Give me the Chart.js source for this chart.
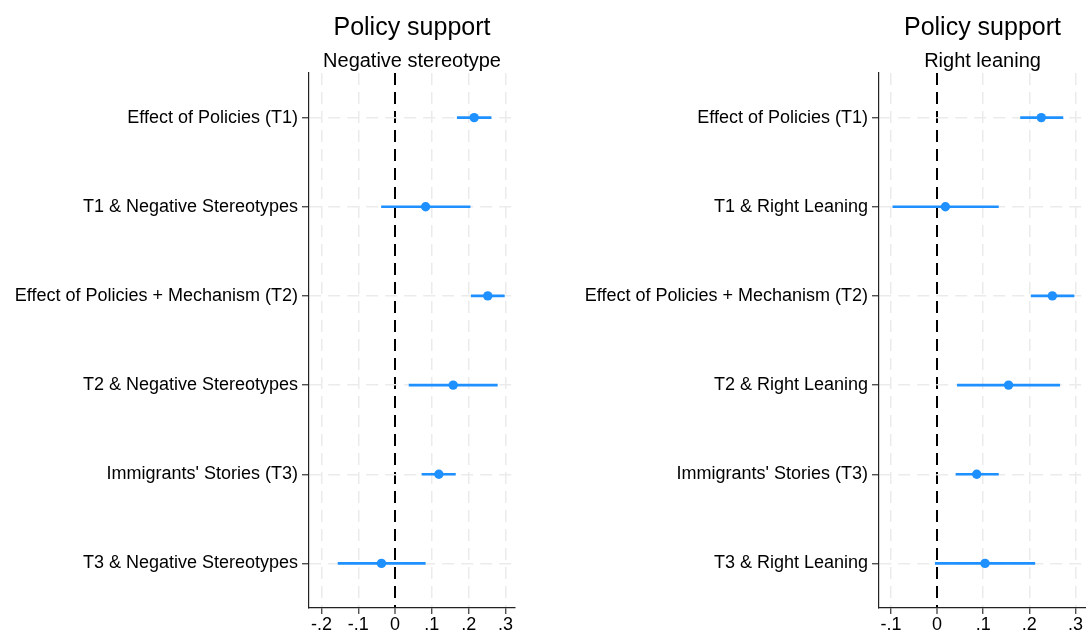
<!DOCTYPE html>
<html><head><meta charset="utf-8">
<script src="https://cdn.jsdelivr.net/npm/chart.js@4"></script>
<style>
html,body{margin:0;padding:0;background:#fff;}
#wrap{position:relative;width:1086px;height:634px;overflow:hidden;background:#fff;}
canvas{position:absolute;top:0;}
</style></head><body>
<div id="wrap">
<canvas id="c1" width="543" height="634" style="left:0px"></canvas>
<canvas id="c2" width="543" height="634" style="left:543px"></canvas>
</div>
<script>
const mainTitle = "Policy support";
const leftSubtitle = "Negative stereotype";
const rightSubtitle = "Right leaning";

const leftLabels = ["Effect of Policies (T1)", "T1 & Negative Stereotypes", "Effect of Policies + Mechanism (T2)", "T2 & Negative Stereotypes", "Immigrants' Stories (T3)", "T3 & Negative Stereotypes"];
const rightLabels = ["Effect of Policies (T1)", "T1 & Right Leaning", "Effect of Policies + Mechanism (T2)", "T2 & Right Leaning", "Immigrants' Stories (T3)", "T3 & Right Leaning"];

const leftEst  = [0.215, 0.083, 0.252, 0.158, 0.119, -0.037];
const leftLow  = [0.169, -0.037, 0.207, 0.038, 0.073, -0.155];
const leftHigh = [0.261, 0.204, 0.297, 0.278, 0.164, 0.082];

const rightEst  = [0.226, 0.018, 0.250, 0.155, 0.086, 0.104];
const rightLow  = [0.181, -0.096, 0.204, 0.044, 0.041, -0.004];
const rightHigh = [0.273, 0.133, 0.297, 0.266, 0.133, 0.212];

const leftTicks = [-0.2, -0.1, 0, 0.1, 0.2, 0.3];
const rightTicks = [-0.1, 0, 0.1, 0.2, 0.3];
const leftRange = [-0.234, 0.326];
const rightRange = [-0.126, 0.323];

const FONT = "'Liberation Sans', Arial, sans-serif";
const BLUE = "rgb(30,144,255)";
const GRID = "#ebebeb";

function fmt(v) {
  if (Math.abs(v) < 1e-9) return "0";
  return v.toFixed(1).replace("0.", ".");
}

function makeChart(id, labels, est, low, high, range, ticks, subtitle, yWidth, padRight) {
  return new Chart(document.getElementById(id), {
    type: 'bar',
    data: {
      labels: labels,
      datasets: [
        { type: 'bar', indexAxis: 'y', data: low.map((l, i) => [l, high[i]]), backgroundColor: BLUE,
          barThickness: 2, borderWidth: 0, grouped: false, order: 2 },
        { type: 'line', indexAxis: 'y', data: est, showLine: false, pointRadius: 4.7,
          pointBackgroundColor: BLUE, pointBorderColor: BLUE, pointBorderWidth: 0, order: 1 }
      ]
    },
    options: {
      indexAxis: 'y', responsive: false, animation: false, devicePixelRatio: 1,
      layout: { autoPadding: false, padding: { left: 0, right: padRight, top: 0, bottom: 0 } },
      plugins: {
        legend: { display: false }, tooltip: { enabled: false },
        title: { display: true, text: mainTitle, fullSize: false, color: '#000',
          font: { family: FONT, size: 25, weight: 'normal' }, padding: { top: 13, bottom: 6 } },
        subtitle: { display: true, text: subtitle, fullSize: false, color: '#000',
          font: { family: FONT, size: 20, weight: 'normal' }, padding: { top: 0, bottom: 0 } }
      },
      scales: {
        x: {
          type: 'linear', min: range[0], max: range[1],
          afterBuildTicks: s => { s.ticks = ticks.map(v => ({ value: v })); },
          afterFit: s => { s.height = 26; s.paddingLeft = 0; s.paddingRight = 0; },
          ticks: { callback: v => fmt(v), color: '#000', font: { family: FONT, size: 18 }, padding: 0, maxRotation: 0, autoSkip: false },
          grid: {
            color: c => (c.tick && Math.abs(c.tick.value) < 1e-9) ? '#000' : GRID,
            lineWidth: c => (c.tick && Math.abs(c.tick.value) < 1e-9) ? 2 : 1.5,
            tickColor: '#333', tickLength: 6, tickWidth: 1.2, drawTicks: true
          },
          border: { display: true, color: '#222', width: 1.2, dash: [12, 7] }
        },
        y: {
          type: 'category', offset: true,
          afterFit: s => { s.width = yWidth; },
          ticks: { color: '#000', font: { family: FONT, size: 18 }, padding: 4, autoSkip: false },
          grid: { offset: false, color: GRID, lineWidth: 1.5, tickColor: '#333', tickLength: 7, tickWidth: 1.2 },
          border: { display: true, color: '#222', width: 1.2, dash: [12, 7] }
        }
      }
    }
  });
}

makeChart('c1', leftLabels, leftEst, leftLow, leftHigh, leftRange, leftTicks, leftSubtitle, 309, 28);
makeChart('c2', rightLabels, rightEst, rightLow, rightHigh, rightRange, rightTicks, rightSubtitle, 336, 0);
</script>
</body></html>
